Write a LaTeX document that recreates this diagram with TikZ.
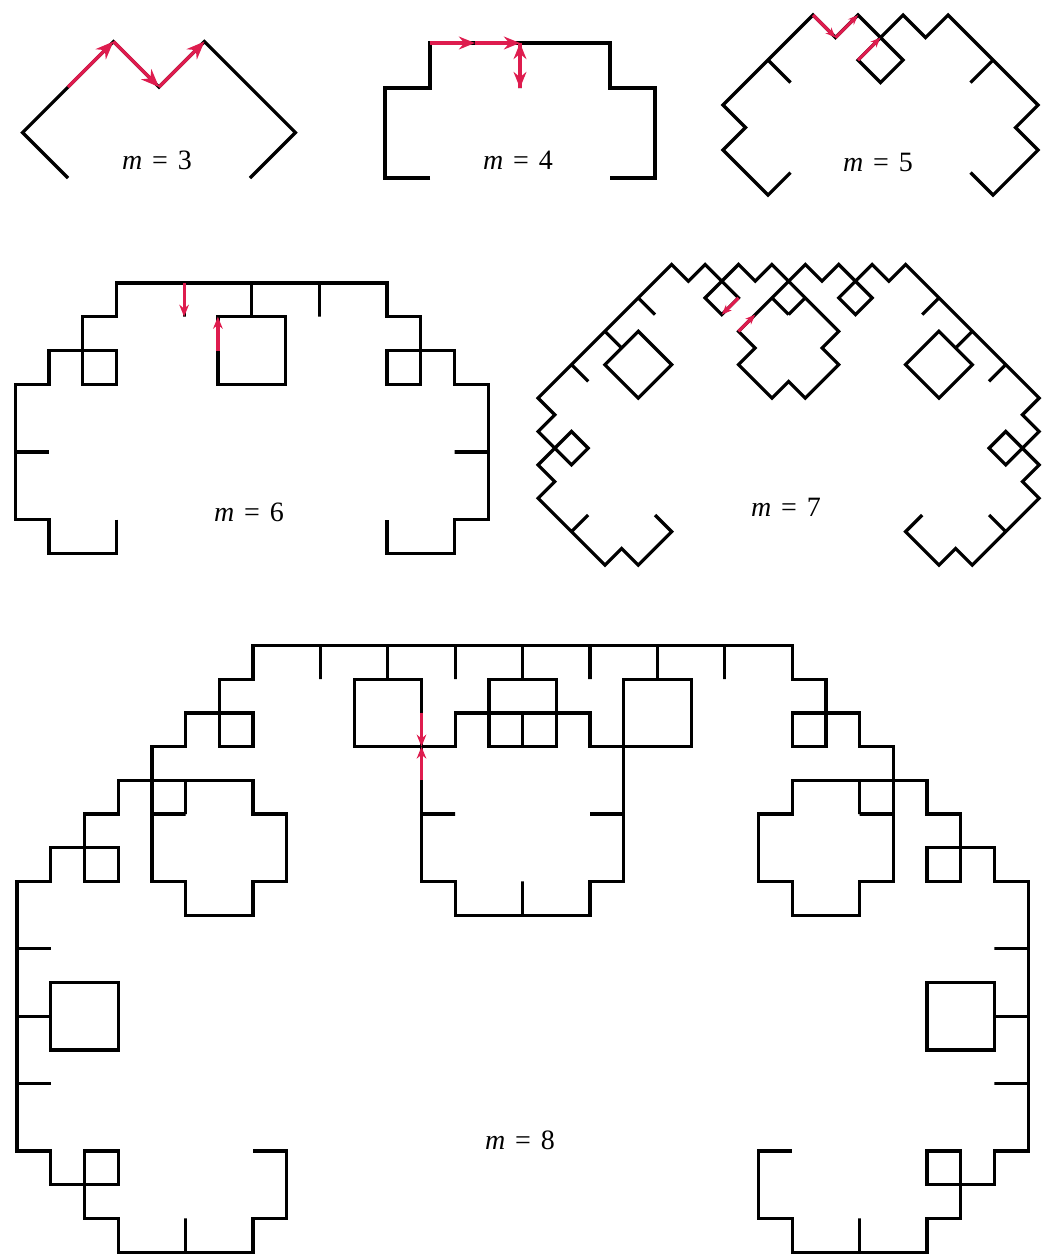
\documentclass[tikz,border=0pt]{standalone}
\usepackage{fontspec}
\setmainfont{Liberation Serif}
\usetikzlibrary{arrows.meta,lindenmayersystems}
\definecolor{foldred}{RGB}{222,28,78}
\pgfdeclarelindenmayersystem{Levy}{\rule{F -> +F--F+}}
\newcommand{\mlabel}[1]{\textit{m}\hspace{0.35em}=\hspace{0.35em}#1}
\tikzset{
  curve/.style={draw=black,line width=1.6pt,line join=miter},
  fold/.style={draw=foldred,line width=1.6pt,-{Stealth[length=#1,width=0.8*#1]}},
  lab/.style={font=\fontsize{14}{16}\selectfont,inner sep=1pt},
}

\begin{document}
\begin{tikzpicture}[x=0.5pt,y=-0.5pt]
\useasboundingbox (0,0) rectangle (1041,1255);
% m = 3
\begin{scope}[shift={(68,178)},x=22.75pt,y=22.75pt]
\draw[curve,lindenmayer system={Levy,axiom=F,order=3,step=32.17pt,angle=45}] (0,0) lindenmayer system;
\draw[fold=9pt] (0,2)--(1,3); \draw[fold=9pt] (1,3)--(2,2); \draw[fold=9pt] (2,2)--(3,3);
\end{scope}
\node[lab] (lab3) at (157,160) {\mlabel{3}};
% m = 4
\begin{scope}[shift={(430,178)},x=22.5pt,y=22.5pt]
\draw[curve,lindenmayer system={Levy,axiom=F,order=4,step=22.5pt,angle=45}] (0,0) lindenmayer system;
\draw[fold=8pt] (0,3)--(1,3); \draw[fold=8pt] (1,3)--(2,3);
\draw[fold=8pt] (2,3)--(2,2); \draw[fold=8pt] (2,2)--(2,3);
\end{scope}
\node[lab] (lab4) at (518,160) {\mlabel{4}};
% m = 5
\begin{scope}[shift={(790.5,172.5)},x=11.25pt,y=11.25pt]
\draw[curve,lindenmayer system={Levy,axiom=F,order=5,step=15.91pt,angle=45}] (0,0) lindenmayer system;
\draw[fold=5pt] (1,7)--(2,6); \draw[fold=5pt] (2,6)--(3,7); \draw[fold=5pt] (3,5)--(4,6);
\end{scope}
\node[lab] (lab5) at (878,162) {\mlabel{5}};
% m = 6
\begin{scope}[shift={(116.5,519.5)},x=16.9pt,y=16.9pt]
\draw[curve,lindenmayer system={Levy,axiom=F,order=6,step=16.9pt,angle=45}] (0,0) lindenmayer system;
\draw[fold=6pt] (2,7)--(2,6); \draw[fold=6pt] (3,5)--(3,6);
\end{scope}
\node[lab] (lab6) at (249,512) {\mlabel{6}};
% m = 7
\begin{scope}[shift={(655,515)},x=8.35pt,y=8.35pt]
\draw[curve,lindenmayer system={Levy,axiom=F,order=7,step=11.81pt,angle=45}] (0,0) lindenmayer system;
\draw[fold=5pt] (5,13)--(4,12); \draw[fold=5pt] (5,11)--(6,12);
\end{scope}
\node[lab] (lab7) at (786,507) {\mlabel{7}};
% m = 8
\begin{scope}[shift={(253,1151)},x=16.85pt,y=16.85pt]
\draw[curve,lindenmayer system={Levy,axiom=F,order=8,step=16.85pt,angle=45}] (0,0) lindenmayer system;
\draw[fold=6pt] (5,13)--(5,12); \draw[fold=6pt] (5,11)--(5,12);
\end{scope}
\node[lab] (lab8) at (520,1140) {\mlabel{8}};
\end{tikzpicture}
\end{document}
